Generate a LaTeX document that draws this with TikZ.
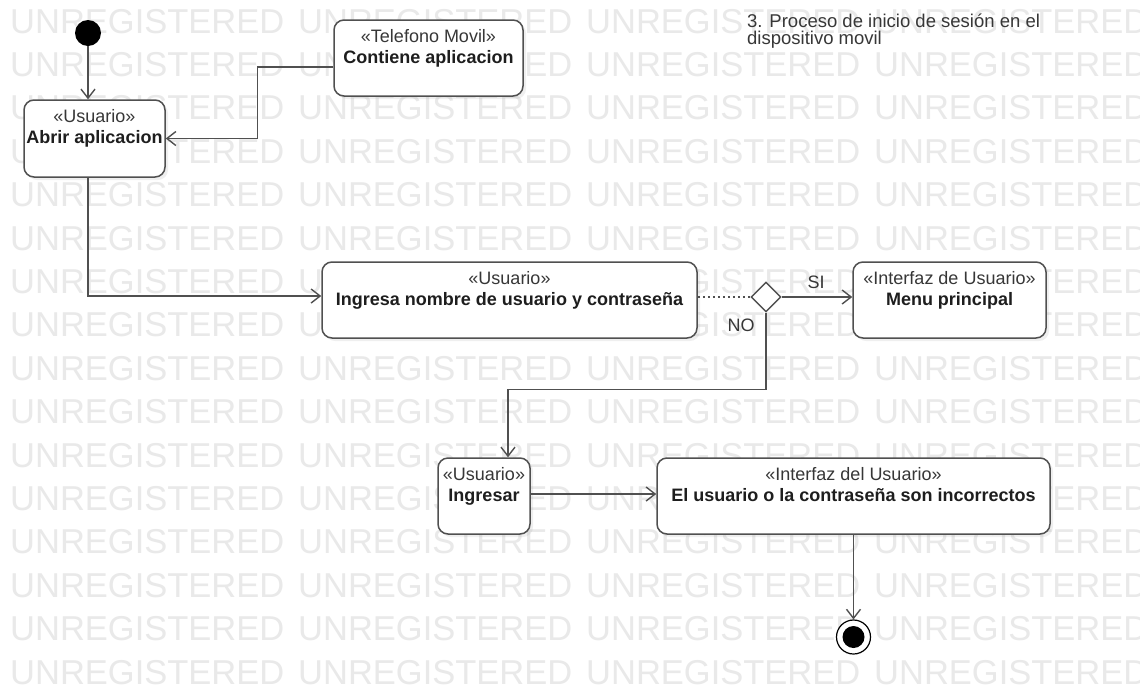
\documentclass[tikz,border=0pt]{standalone}
\usepackage{fontspec}
\setmainfont{Liberation Sans}
\usetikzlibrary{arrows.meta,shapes.geometric,shadows}
\definecolor{wmgray}{RGB}{233,233,233}
\definecolor{edge}{RGB}{80,80,80}
\definecolor{ink}{RGB}{30,30,30}
\definecolor{inklight}{RGB}{55,55,55}
\newcommand\wmfont{\fontsize{34.5}{34.5}\selectfont}
\newcommand\lblfont{\fontsize{18}{18}\selectfont}

\begin{document}
\begin{tikzpicture}[x=1pt,y=-1pt,
  wm/.style={text=wmgray,font=\wmfont,anchor=base west,inner sep=0pt},
  act/.style={draw=edge,line width=1.5pt,rounded corners=10pt,fill=white,inner sep=0pt,
    drop shadow={shadow xshift=3pt,shadow yshift=-3pt,opacity=0.12}},
  stereo/.style={font=\lblfont,text=inklight,anchor=base,inner sep=0pt},
  actname/.style={font=\lblfont\bfseries,text=ink,anchor=base,inner sep=0pt},
  flow/.style={draw=edge,line width=1.4pt,-{Straight Barb[length=9pt,width=14pt]}},
  guard/.style={font=\lblfont,text=inklight,inner sep=0pt},
]
\useasboundingbox (0,0) rectangle (1140,686);
\fill[white] (0,0) rectangle (1140,686);

% background stamp rows
\foreach \r in {0,...,15}{
  \foreach \c in {0,...,3}{
    \node[wm] (wm-\r-\c) at ({10+288*\c},{33+43.4*\r}) {UNREGISTERED};
  }
}

% title
\node[anchor=north west,align=left,font=\fontsize{18.5}{17}\selectfont,text=inklight,inner sep=0pt]
  (title) at (747,14) {3. Proceso de inicio de sesión en el\\dispositivo movil};

% start / end
\node[circle,fill=black,minimum size=26pt,inner sep=0pt] (init) at (88,33) {};
\node[circle,draw=black,line width=1.2pt,fill=white,minimum size=34pt,inner sep=0pt] (final) at (853.5,637) {};
\node[circle,fill=black,minimum size=22pt,inner sep=0pt] (final-dot) at (final.center) {};

% actions
\node[act,minimum width=141pt,minimum height=77pt] (abrir) at (94.5,138.5) {};
\node[stereo] (abrir-st) at ([yshift=-23pt]abrir.north) {«Usuario»};
\node[actname] (abrir-nm) at ([yshift=-44pt]abrir.north) {Abrir aplicacion};

\node[act,minimum width=189pt,minimum height=76pt] (contiene) at (428.5,58) {};
\node[stereo] (contiene-st) at ([yshift=-23pt]contiene.north) {«Telefono Movil»};
\node[actname] (contiene-nm) at ([yshift=-44pt]contiene.north) {Contiene aplicacion};

\node[act,minimum width=375pt,minimum height=76pt] (ingresa) at (509.5,300) {};
\node[stereo] (ingresa-st) at ([yshift=-23pt]ingresa.north) {«Usuario»};
\node[actname] (ingresa-nm) at ([yshift=-44pt]ingresa.north) {Ingresa nombre de usuario y contraseña};

\node[act,minimum width=193pt,minimum height=76pt] (menu) at (949.5,300) {};
\node[stereo] (menu-st) at ([yshift=-23pt]menu.north) {«Interfaz de Usuario»};
\node[actname] (menu-nm) at ([yshift=-44pt]menu.north) {Menu principal};

\node[act,minimum width=92pt,minimum height=76pt] (ingresar) at (484,496) {};
\node[stereo] (ingresar-st) at ([yshift=-23pt]ingresar.north) {«Usuario»};
\node[actname] (ingresar-nm) at ([yshift=-44pt]ingresar.north) {Ingresar};

\node[act,minimum width=393pt,minimum height=76pt] (incorrecto) at (853.5,496) {};
\node[stereo] (incorrecto-st) at ([yshift=-23pt]incorrecto.north) {«Interfaz del Usuario»};
\node[actname] (incorrecto-nm) at ([yshift=-44pt]incorrecto.north) {El usuario o la contraseña son incorrectos};

% decision
\node[diamond,draw=edge,line width=1.4pt,fill=white,aspect=1,minimum size=30pt,inner sep=0pt] (dec) at (766,297) {};

% guards
\node[guard] (si) at (816,282) {SI};
\node[guard] (no) at (741,325) {NO};

% flows
\draw[flow] (init) -- (init |- abrir.north);
\draw[flow] ([yshift=-9pt]contiene.west) -- ++(-76,0) |- (abrir.east);
\draw[flow] (abrir.south -| init) |- ([yshift=4pt]ingresa.west);
\draw[draw=edge,line width=1.4pt,dash pattern=on 2.5pt off 2.5pt] (dec.west -| ingresa.east) -- (dec.west);
\draw[flow] (dec.east) -- (dec.east -| menu.west);
\draw[flow] (dec.south) -- ++(0,77) -| ([xshift=24pt]ingresar.north);
\draw[flow] ([yshift=2pt]ingresar.east) -- ([yshift=2pt]incorrecto.west);
\draw[flow] (incorrecto.south) -- (final.north);
\end{tikzpicture}
\end{document}
